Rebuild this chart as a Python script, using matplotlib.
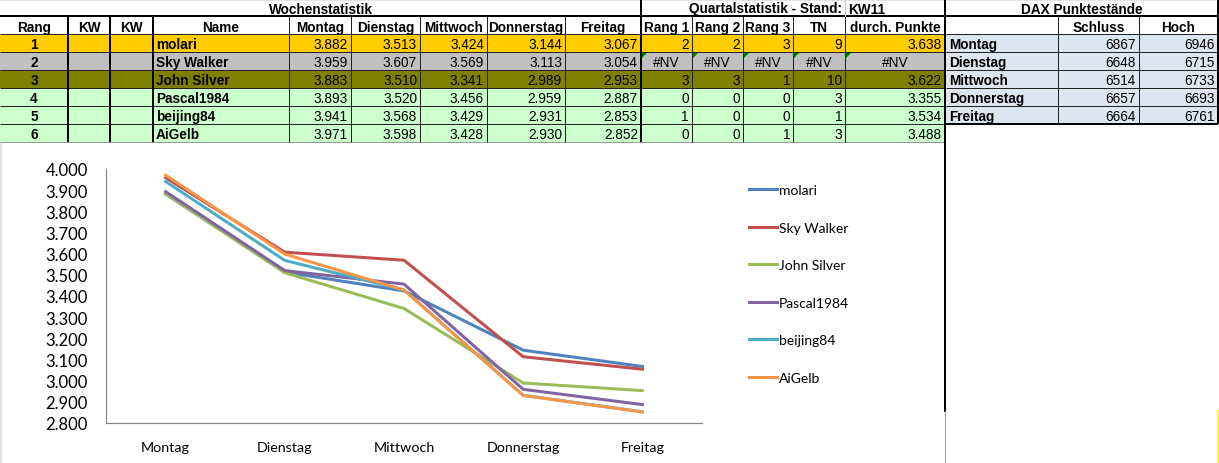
import matplotlib
matplotlib.use('Agg')
import matplotlib.pyplot as plt
from matplotlib.patches import Rectangle, Polygon

# Wochenstatistik data
days = ['Montag', 'Dienstag', 'Mittwoch', 'Donnerstag', 'Freitag']
players = ['molari', 'Sky Walker', 'John Silver', 'Pascal1984', 'beijing84', 'AiGelb']
ranks = [1, 2, 3, 4, 5, 6]
montag = [3882, 3959, 3883, 3893, 3941, 3971]
dienstag = [3513, 3607, 3510, 3520, 3568, 3598]
mittwoch = [3424, 3569, 3341, 3456, 3429, 3428]
donnerstag = [3144, 3113, 2989, 2959, 2931, 2930]
freitag = [3067, 3054, 2953, 2887, 2853, 2852]

# Quartalstatistik (None = #NV)
rang1 = [2, None, 3, 0, 1, 0]
rang2 = [2, None, 3, 0, 0, 0]
rang3 = [3, None, 1, 0, 0, 1]
tn = [9, None, 10, 3, 1, 3]
durch_punkte = [3638, None, 3622, 3355, 3534, 3488]

# DAX Punktestaende
dax_schluss = [6867, 6648, 6514, 6657, 6664]
dax_hoch = [6946, 6715, 6733, 6693, 6761]

row_colors = ['#FFCC00', '#C0C0C0', '#808000', '#CCFFCC', '#CCFFCC', '#CCFFCC']
line_colors = ['#4F81BD', '#C0504D', '#9BBB59', '#8064A2', '#4BACC6', '#F79646']

W, H, DPI = 1219, 464, 100
PX = 72.0 / DPI  # one pixel in points

# table layout (pixels)
cols = [0, 68, 110, 153, 289, 351, 420, 487, 565, 641, 692, 743, 793, 845, 945]
dax_cols = [946, 1058, 1139, 1218]
row_top = 35
row_h = 18


def de(v):
    return f"{v:,}".replace(",", ".")


fig = plt.figure(figsize=(W / DPI, H / DPI), dpi=DPI)
bg = fig.add_axes([0, 0, 1, 1])
bg.set_xlim(0, W)
bg.set_ylim(H, 0)
bg.axis('off')

TF = 'Liberation Sans'
FS = 9.8

# frame strips
bg.add_patch(Rectangle((0, 0), W, 2, color='#DDE4EE', lw=0))
bg.add_patch(Rectangle((0, 143), 2, H - 143, color='#DDE4EE', lw=0))

# row fills
for i, c in enumerate(row_colors):
    y0 = row_top + i * row_h
    bg.add_patch(Rectangle((0, y0), cols[-1], row_h, color=c, lw=0))
for i in range(len(days)):
    y0 = row_top + i * row_h
    bg.add_patch(Rectangle((dax_cols[0], y0), dax_cols[-1] - dax_cols[0], row_h,
                           color='#DCE6F1', lw=0))

thin = dict(color='#222222', lw=PX, solid_capstyle='butt')
thick = dict(color='black', lw=2 * PX, solid_capstyle='butt')
n_rows = len(players)
y_end = row_top + n_rows * row_h

# horizontal lines main table
bg.plot([0, cols[-1]], [17, 17], **thick)
for i in range(n_rows + 1):
    y = row_top + i * row_h
    style = dict(thin)
    if i == n_rows:
        style['color'] = '#9A9A9A'
    bg.plot([0, cols[-1]], [y, y], **style)
# vertical lines main table
for x in cols[1:-1]:
    st = thick if x in (68, 110, 153, 641) else thin
    bg.plot([x, x], [17, y_end], **st)
bg.plot([641, 641], [0, 17], **thick)
bg.plot([845, 845], [0, 17], color='#C8C8C8', lw=PX)
bg.plot([945, 945], [0, 412], color='black', lw=2 * PX)
bg.plot([945, 945], [412, H], color='#9A9A9A', lw=PX)

# DAX table lines
dy_end = row_top + len(days) * row_h
bg.plot([dax_cols[0], dax_cols[-1]], [17, 17], **thick)
for i in range(len(days)):
    y = row_top + i * row_h
    bg.plot([dax_cols[0], dax_cols[-1]], [y, y], **thin)
bg.plot([dax_cols[0], dax_cols[-1]], [dy_end, dy_end], **thick)
for x in dax_cols[1:-1]:
    bg.plot([x, x], [17, dy_end], **thin)
bg.plot([dax_cols[-1], dax_cols[-1]], [0, dy_end], **thick)
bg.plot([1218, 1218], [412, H], color='#FFFF00', lw=2 * PX)

# titles
bg.text(321, 13.5, 'Wochenstatistik', ha='center', va='baseline',
        fontsize=FS, fontweight='bold', family=TF)
bg.text(842, 13.5, 'Quartalstatistik - Stand:', ha='right', va='baseline',
        fontsize=FS, fontweight='bold', family=TF)
bg.text(848, 13.5, 'KW11', ha='left', va='baseline',
        fontsize=FS, fontweight='bold', family=TF)
bg.text(1082, 13.5, 'DAX Punktestände', ha='center', va='baseline',
        fontsize=FS, fontweight='bold', family=TF)

headers = ['Rang', 'KW', 'KW', 'Name'] + days + ['Rang 1', 'Rang 2', 'Rang 3', 'TN', 'durch. Punkte']
for j, h in enumerate(headers):
    xc = (cols[j] + cols[j + 1]) / 2
    bg.text(xc, 32, h, ha='center', va='baseline', fontsize=FS,
            fontweight='bold', family=TF)
for j, h in enumerate(['Schluss', 'Hoch']):
    xc = (dax_cols[j + 1] + dax_cols[j + 2]) / 2
    bg.text(xc, 32, h, ha='center', va='baseline', fontsize=FS,
            fontweight='bold', family=TF)

# main table body
for i in range(n_rows):
    yb = row_top + (i + 1) * row_h - 3.6
    bg.text((cols[0] + cols[1]) / 2, yb, str(ranks[i]), ha='center', va='baseline',
            fontsize=FS, fontweight='bold', family=TF)
    bg.text(cols[3] + 3, yb, players[i], ha='left', va='baseline',
            fontsize=FS, fontweight='bold', family=TF)
    week = [montag[i], dienstag[i], mittwoch[i], donnerstag[i], freitag[i]]
    for k, v in enumerate(week):
        bg.text(cols[5 + k] - 3, yb, de(v), ha='right', va='baseline',
                fontsize=FS, family=TF)
    quart = [rang1[i], rang2[i], rang3[i], tn[i], durch_punkte[i]]
    for k, v in enumerate(quart):
        x0, x1 = cols[9 + k], cols[10 + k]
        if v is None:
            bg.text((x0 + x1) / 2, yb, '#NV', ha='center', va='baseline',
                    fontsize=FS, family=TF)
            yt = row_top + i * row_h
            bg.add_patch(Polygon([(x0 + 1, yt + 1), (x0 + 6, yt + 1), (x0 + 1, yt + 6)],
                                 closed=True, color='#008000', lw=0))
        else:
            bg.text(x1 - 3, yb, de(v), ha='right', va='baseline',
                    fontsize=FS, family=TF)

# DAX body
for i, d in enumerate(days):
    yb = row_top + (i + 1) * row_h - 3.6
    bg.text(dax_cols[0] + 3, yb, d, ha='left', va='baseline',
            fontsize=FS, fontweight='bold', family=TF)
    bg.text(dax_cols[2] - 3, yb, str(dax_schluss[i]), ha='right', va='baseline',
            fontsize=FS, family=TF)
    bg.text(dax_cols[3] - 3, yb, str(dax_hoch[i]), ha='right', va='baseline',
            fontsize=FS, family=TF)

# line chart
CF = 'Lato'
ax = fig.add_axes([106 / W, (H - 424) / H, 596 / W, 254 / H])
ax.patch.set_alpha(0)
x = list(range(len(days)))
for i, name in enumerate(players):
    vals = [montag[i], dienstag[i], mittwoch[i], donnerstag[i], freitag[i]]
    ax.plot(x, vals, color=line_colors[i], lw=3 * PX, label=name,
            solid_joinstyle='round')
ax.set_xlim(-0.5, len(days) - 0.5)
ax.set_ylim(2800, 4000)
ax.set_yticks(range(2800, 4001, 100))
ax.set_yticklabels([de(v) for v in range(2800, 4001, 100)], family=CF, fontsize=12)
ax.set_xticks(x)
ax.set_xticklabels(days, family=CF, fontsize=10.3)
ax.tick_params(axis='y', length=0, pad=13)
ax.tick_params(axis='x', length=0, pad=13)
for s in ('top', 'right'):
    ax.spines[s].set_visible(False)
for s in ('left', 'bottom'):
    ax.spines[s].set_color('#868686')
    ax.spines[s].set_linewidth(1.2 * PX)

leg = ax.legend(loc='upper left', bbox_to_anchor=(749 / W, (H - 185) / H),
                bbox_transform=fig.transFigure, frameon=False, borderpad=0,
                borderaxespad=0, handlelength=2.0, handletextpad=0.15,
                labelspacing=1.84, prop={'family': CF, 'size': 10})

# put the y tick labels' right edge at 88 px
fig.canvas.draw()
r = fig.canvas.get_renderer()
bb = ax.get_yticklabels()[-1].get_window_extent(r)
shift = 88 - bb.x1
ax.tick_params(axis='y', pad=max(0, 13 - shift * PX))

plt.savefig('out.png', dpi=DPI)
plt.close()
